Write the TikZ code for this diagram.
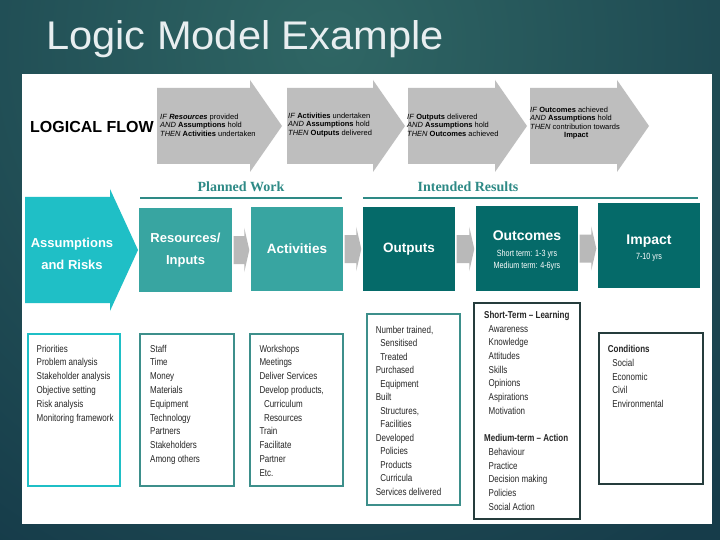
\documentclass[tikz,border=0pt]{standalone}
\usepackage{fontspec}
\setmainfont{Liberation Sans}
\newfontfamily\narrowfont[FakeStretch=0.8]{Liberation Sans}
\newfontfamily\titlefont[FakeStretch=1.04]{Liberation Sans}
\newfontfamily\slabfont{Liberation Serif}
\usepackage{xcolor}
\usetikzlibrary{positioning, calc}

\definecolor{bgdark}{HTML}{163C4A}
\definecolor{bglight}{HTML}{2F6664}
\definecolor{aqua}{HTML}{1FBFC6}
\definecolor{tealmid}{HTML}{38A5A1}
\definecolor{tealdark}{HTML}{056A69}
\definecolor{flowgray}{HTML}{BEBEBE}
\definecolor{linkgray}{HTML}{B9B9B9}
\definecolor{headteal}{HTML}{2E8A86}
\definecolor{boxedge}{HTML}{3D8F8B}
\definecolor{darkedge}{HTML}{253C3C}
\definecolor{titlewhite}{HTML}{E8EEF0}

\newcommand\setfs[2]{\fontsize{#1}{#2}\selectfont}
\newcommand\ind{\hspace*{4.5pt}}

\begin{document}
\begin{tikzpicture}[
  x=1pt, y=-1pt,
  flowtxt/.style={anchor=west, align=left, inner sep=0, font=\setfs{7.5}{8.4}},
  grouplbl/.style={inner sep=0, text=headteal, font=\slabfont\bfseries\setfs{14}{14}},
  groupline/.style={draw=headteal, line width=1.5pt},
  bigbox/.style={inner sep=0, text=white, align=center, font=\bfseries\setfs{13}{22}},
  hdrtxt/.style={inner sep=0, text=white, align=center},
  listbox/.style={draw, line width=1.8pt, fill=white, anchor=north west, inner sep=0},
  listtxt/.style={anchor=north west, align=left, inner sep=0, text=black!85,
                  font=\narrowfont\setfs{10}{13.8}}
]
\useasboundingbox (0,0) rectangle (720,540);

% slide background
\begin{scope}
  \clip (0,0) rectangle (720,540);
  \fill[bgdark] (0,0) rectangle (720,540);
  \shade[inner color=bglight, outer color=bgdark] (330,45) circle[radius=600pt];
\end{scope}
\fill[white] (22,74) rectangle (712,524);

\node[anchor=base west, inner sep=0, text=titlewhite, font=\titlefont\setfs{40}{40}] (title) at (46,50) {Logic Model Example};

% logical flow row
\node[anchor=west, inner sep=0, font=\bfseries\setfs{16}{16}] (flowlbl) at (30,127) {LOGICAL FLOW};
\foreach \x/\w in {157/93, 287/86, 408/87, 530/87}
  \fill[flowgray] (\x,88) -- (\x+\w,88) -- (\x+\w,80) -- (\x+\w+32,126)
    -- (\x+\w,172) -- (\x+\w,164) -- (\x,164) -- cycle;
\node[flowtxt] (flow1) at (160,125) {\textit{IF} \textbf{\textit{Resources}} provided\\\textit{AND} \textbf{Assumptions} hold\\\textit{THEN} \textbf{Activities} undertaken};
\node[flowtxt] (flow2) at (288,125) {\textit{IF} \textbf{Activities} undertaken\\\textit{AND} \textbf{Assumptions} hold\\\textit{THEN} \textbf{Outputs} delivered};
\node[flowtxt] (flow3) at (407,125) {\textit{IF} \textbf{Outputs} delivered\\\textit{AND} \textbf{Assumptions} hold\\\textit{THEN} \textbf{Outcomes} achieved};
\node[flowtxt] (flow4) at (530,123) {\textit{IF} \textbf{Outcomes} achieved\\\textit{AND} \textbf{Assumptions} hold\\\textit{THEN} contribution towards\\\hspace*{34pt}\textbf{Impact}};

% group headings
\node[grouplbl] (planned) at (241,186.5) {Planned Work};
\node[grouplbl] (intended) at (468,187) {Intended Results};
\draw[groupline] (140,198) -- (342,198);
\draw[groupline] (363,198) -- (698,198);

% main row
\fill[aqua] (25,197) -- (110,197) -- (110,189) -- (138,250) -- (110,311) -- (110,303) -- (25,303) -- cycle;
\node[bigbox, font=\bfseries\setfs{13}{21.7}] (assump) at (72,254) {Assumptions\\and Risks};
\node[bigbox, fill=tealmid, minimum width=93pt, minimum height=84pt] (res) at (185.5,250) {Resources/\\Inputs};
\node[bigbox, fill=tealmid, minimum width=92pt, minimum height=84pt, font=\bfseries\setfs{13.5}{14}] (act) at (297,249) {Activities};
\node[bigbox, fill=tealdark, minimum width=92pt, minimum height=84pt, font=\bfseries\setfs{13.5}{14}] (outp) at (409,249) {Outputs};
\node[bigbox, fill=tealdark, minimum width=102pt, minimum height=85pt] (outc) at (527,248.5) {};
\node[hdrtxt, font=\bfseries\setfs{14}{14}] (outcname) at (527,236) {Outcomes};
\node[hdrtxt, font=\narrowfont\setfs{9}{12}] (outcterm) at (527,260.5) {Short term: 1-3 yrs\\Medium term: 4-6yrs};
\node[bigbox, fill=tealdark, minimum width=102pt, minimum height=85pt] (imp) at (649,245.5) {};
\node[hdrtxt, font=\bfseries\setfs{14}{14}] (impname) at (649,241.5) {Impact};
\node[hdrtxt, font=\narrowfont\setfs{9}{12}] (impterm) at (649,257.5) {7-10 yrs};

% links between boxes
\foreach \a/\b in {res/act, act/outp, outp/outc, outc/imp} {
  \coordinate (l) at ($(\a.east)+(1.5,0)$);
  \coordinate (r) at ($(\b.west |- \a.east)+(-1.5,0)$);
  \fill[linkgray] ($(l)+(0,-14)$) -- ($(r)+(-5,-14)$) -- ($(r)+(-5,-22)$) -- (r)
    -- ($(r)+(-5,22)$) -- ($(r)+(-5,14)$) -- ($(l)+(0,14)$) -- cycle;
}

% detail lists
\node[listbox, draw=aqua, minimum width=92pt, minimum height=152pt] (list1) at (27,333) {};
\node[listtxt] (text1) at ($(list1.north west)+(9.5,11.7)$) {Priorities\\Problem analysis\\Stakeholder analysis\\Objective setting\\Risk analysis\\Monitoring framework};

\node[listbox, draw=boxedge, minimum width=94pt, minimum height=152pt] (list2) at (139,333) {};
\node[listtxt] (text2) at ($(list2.north west)+(11,11.7)$) {Staff\\Time\\Money\\Materials\\Equipment\\Technology\\Partners\\Stakeholders\\Among others};

\node[listbox, draw=boxedge, minimum width=93pt, minimum height=152pt] (list3) at (249,333) {};
\node[listtxt] (text3) at ($(list3.north west)+(10.3,11.7)$) {Workshops\\Meetings\\Deliver Services\\Develop products,\\\ind Curriculum\\\ind Resources\\Train\\Facilitate\\Partner\\Etc.};

\node[listbox, draw=boxedge, minimum width=93pt, minimum height=191pt] (list4) at (366,313) {};
\node[listtxt, font=\narrowfont\setfs{10}{13.5}] (text4) at ($(list4.north west)+(9.7,12.7)$) {Number trained,\\\ind Sensitised\\\ind Treated\\Purchased\\\ind Equipment\\Built\\\ind Structures,\\\ind Facilities\\Developed\\\ind Policies\\\ind Products\\\ind Curricula\\Services delivered};

\node[listbox, draw=darkedge, minimum width=106pt, minimum height=216pt] (list5) at (473,302) {};
\node[listtxt, font=\narrowfont\setfs{10}{13.7}] (text5) at ($(list5.north west)+(11,9)$) {\textbf{Short-Term – Learning}\\\ind Awareness\\\ind Knowledge\\\ind Attitudes\\\ind Skills\\\ind Opinions\\\ind Aspirations\\\ind Motivation\\[13.7pt]\textbf{Medium-term – Action}\\\ind Behaviour\\\ind Practice\\\ind Decision making\\\ind Policies\\\ind Social Action};

\node[listbox, draw=darkedge, minimum width=104pt, minimum height=151pt] (list6) at (598,332) {};
\node[listtxt, font=\narrowfont\setfs{10}{13.7}] (text6) at ($(list6.north west)+(9.7,13.4)$) {\textbf{Conditions}\\\ind Social\\\ind Economic\\\ind Civil\\\ind Environmental};
\end{tikzpicture}
\end{document}
